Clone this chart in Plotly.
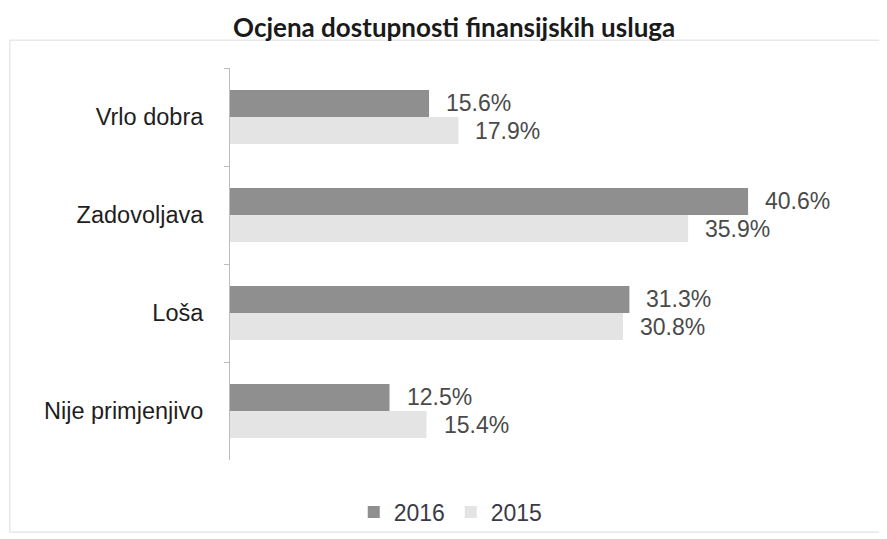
import plotly.graph_objects as go

categories = ["Vrlo dobra", "Zadovoljava", "Loša", "Nije primjenjivo"]
values_2016 = [15.6, 40.6, 31.3, 12.5]
values_2015 = [17.9, 35.9, 30.8, 15.4]
series_names = ["2016", "2015"]

fig = go.Figure()
fig.add_trace(go.Bar(
    y=categories, x=values_2016, name=series_names[0], orientation="h",
    marker=dict(color="#8f8f8f", line=dict(width=0)),
))
fig.add_trace(go.Bar(
    y=categories, x=values_2015, name=series_names[1], orientation="h",
    marker=dict(color="#e4e4e4", line=dict(width=0)),
))

annotations = []
n = len(categories)
for i, (cat, v16, v15) in enumerate(zip(categories, values_2016, values_2015)):
    for v, off in ((v16, -0.14), (v15, 0.14)):
        annotations.append(dict(
            x=v, y=i + off, xref="x", yref="y", text=f"{v:.1f}%",
            showarrow=False, xanchor="left", yanchor="middle", xshift=15,
            font=dict(family="Liberation Sans, Arial", size=23, color="#4a4a4a"),
        ))

fig.update_layout(
    width=887, height=539,
    paper_bgcolor="white", plot_bgcolor="white",
    margin=dict(l=222, r=27, t=60, b=87, autoexpand=False),
    barmode="group", bargap=0.45, bargroupgap=0,
    title=dict(text="<b>Ocjena dostupnosti finansijskih usluga</b>",
               x=0.503, xanchor="center", y=0.963, yanchor="middle",
               font=dict(family="Lato, Open Sans", size=26, color="#1a1a1a")),
    xaxis=dict(range=[0, 50], visible=False, showgrid=False, zeroline=False),
    yaxis=dict(
        type="category", categoryorder="array", categoryarray=categories,
        autorange=False, range=[n - 0.5, -0.5], automargin=False,
        showline=True, linecolor="#bdbdbd", linewidth=1,
        ticks="outside", ticklen=5, tickcolor="#bdbdbd", tickson="boundaries",
        ticklabelstandoff=21,
        tickfont=dict(family="Liberation Sans, Arial", size=23.5, color="#1e1e1e"),
        showgrid=False, zeroline=False,
    ),
    legend=dict(orientation="h", x=0.346, xanchor="center", y=-0.133, yanchor="middle",
                font=dict(family="Liberation Sans, Arial", size=23, color="#3a3a4a"),
                entrywidth=52, entrywidthmode="pixels",
                bgcolor="rgba(0,0,0,0)", traceorder="normal"),
    showlegend=True,
    annotations=annotations,
    shapes=[dict(type="rect", xref="paper", yref="paper",
                 x0=-0.345, x1=1.022, y0=-0.184, y1=1.071,
                 line=dict(color="#dcdcdc", width=1))],
)

fig.write_html("out.html")
